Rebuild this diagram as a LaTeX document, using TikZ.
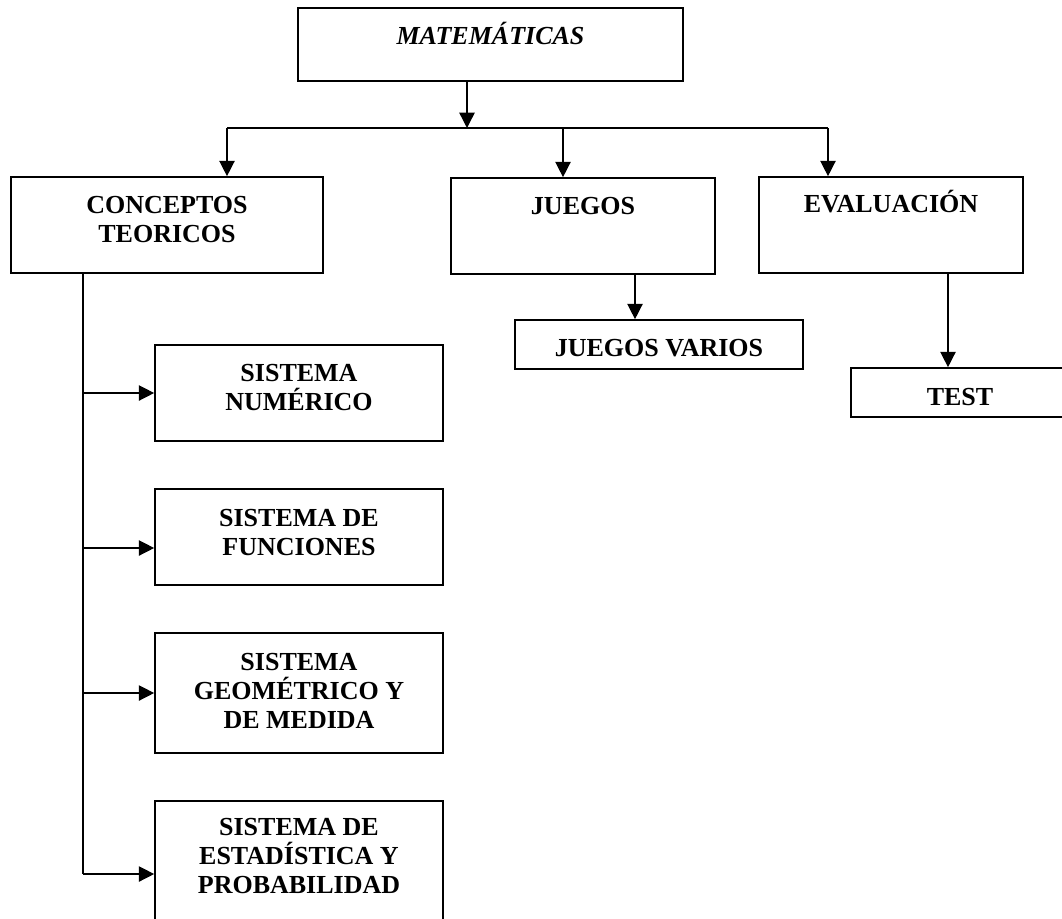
\documentclass[tikz,border=0pt]{standalone}
\usepackage{fontspec}
\setmainfont{Liberation Serif}
\usetikzlibrary{arrows.meta,fit,calc}
% strut that fixes the height of a label's first line
\newcommand\firstline{\rule{0pt}{1em}}
\begin{document}
\begin{tikzpicture}[x=0.75pt,y=-0.75pt,
  box/.style={draw, line width=1.25pt, inner sep=0pt},
  txt/.style={font=\fontsize{19.5}{22.1}\selectfont\bfseries, align=center,
              inner sep=0pt, anchor=north},
  link/.style={line width=1.05pt},
  arr/.style={link, -{Triangle[length=11.5pt,width=11.5pt]}}]
\useasboundingbox (0,0) rectangle (1062,918);
\fill[white] (0,0) rectangle (1062,918);
\clip (0,0) rectangle (1062,918);

% boxes
\node[box, fit={(298,8) (683,81)}]    (mat)  {};
\node[box, fit={(11,177) (323,273)}]  (conc) {};
\node[box, fit={(451,178) (715,274)}] (jue)  {};
\node[box, fit={(759,177) (1023,273)}] (eval) {};
\node[box, fit={(515,320) (803,369)}] (jv)   {};
\node[box, fit={(851,368) (1069,417)}] (test) {};
\node[box, fit={(155,345) (443,441)}] (sn)   {};
\node[box, fit={(155,489) (443,585)}] (sf)   {};
\node[box, fit={(155,633) (443,753)}] (sg)   {};
\node[box, fit={(155,801) (443,960)}] (se)   {};

% labels, set at the top of each box
\node[txt] (matT)  at ($(mat.north)+(0,10.6)$)  {\firstline\itshape MATEMÁTICAS};
\node[txt] (concT) at ($(conc.north)+(0,10.6)$) {\firstline CONCEPTOS\\TEORICOS};
\node[txt] (jueT)  at ($(jue.north)+(0,10.6)$)  {\firstline JUEGOS};
\node[txt] (evalT) at ($(eval.north)+(0,9.6)$)  {\firstline EVALUACIÓN};
\node[txt] (jvT)   at ($(jv.north)+(0,10.6)$)   {\firstline JUEGOS VARIOS};
\node[txt] (testT) at ($(test.north)+(0,11.6)$) {\firstline TEST};
\node[txt] (snT)   at ($(sn.north)+(0,10.6)$)   {\firstline SISTEMA\\NUMÉRICO};
\node[txt] (sfT)   at ($(sf.north)+(0,11.6)$)   {\firstline SISTEMA DE\\FUNCIONES};
\node[txt] (sgT)   at ($(sg.north)+(0,11.6)$)   {\firstline SISTEMA\\GEOMÉTRICO Y\\DE MEDIDA};
\node[txt] (seT)   at ($(se.north)+(0,8.6)$)    {\firstline SISTEMA DE\\ESTADÍSTICA Y\\PROBABILIDAD};

% distribution bus under the title
\coordinate (drop) at (467,128);
\coordinate (busL) at (227,128);
\coordinate (busM) at (563,128);
\coordinate (busR) at (828,128);
\draw[arr] (drop |- mat.south) -- (drop);
\draw[link] (busL) -- (busR);
\draw[arr] (busL) -- (busL |- conc.north);
\draw[arr] (busM) -- (busM |- jue.north);
\draw[arr] (busR) -- (busR |- eval.north);

% second level
\coordinate (jx) at (635,0);
\coordinate (ex) at (948,0);
\draw[arr] (jx |- jue.south) -- (jx |- jv.north);
\draw[arr] (ex |- eval.south) -- (ex |- test.north);

% trunk with branches to the systems
\coordinate (b1) at (83,393);
\coordinate (b2) at (83,548);
\coordinate (b3) at (83,693);
\coordinate (b4) at (83,874);
\draw[link] (b1 |- conc.south) -- (b4);
\draw[arr] (b1) -- (b1 -| sn.west);
\draw[arr] (b2) -- (b2 -| sf.west);
\draw[arr] (b3) -- (b3 -| sg.west);
\draw[arr] (b4) -- (b4 -| se.west);
\end{tikzpicture}
\end{document}
